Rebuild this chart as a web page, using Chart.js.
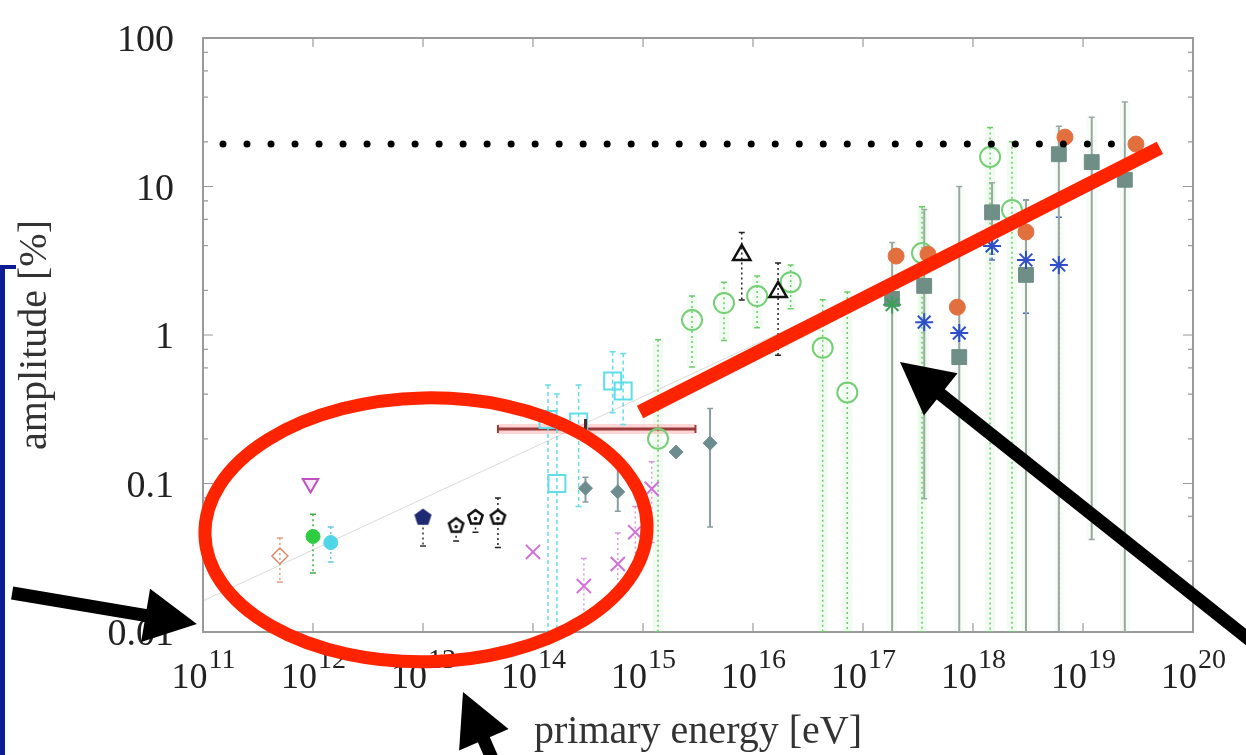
<!DOCTYPE html>
<html>
<head>
<meta charset="utf-8">
<script src="https://cdn.jsdelivr.net/npm/chart.js@4.4.0/dist/chart.umd.min.js"></script>
<style>
  html, body { margin: 0; padding: 0; background: #fff; }
  #wrap { position: relative; width: 1246px; height: 755px; overflow: hidden; }
  #bracket { position: absolute; left: 0; top: 265px; width: 11px; height: 500px;
             border-left: 5px solid #0c1d94; border-top: 4px solid #0c1d94; }
</style>
</head>
<body>
<div id="wrap">
  <canvas id="amplitudeChart" width="1246" height="755"></canvas>
  <div id="bracket"></div>
</div>
<script>
// axis ticks
const yTickValues = [0.01, 0.1, 1, 10, 100];
const yTickLabels = ['0.01', '0.1', '1', '10', '100'];
const xTickExponents = [11, 12, 13, 14, 15, 16, 17, 18, 19, 20];

// energy [eV], amplitude [%], lower / upper error (null = none drawn)
const diamondE = [5e11];
const diamondA = [0.0325];
const diamondLo = [0.0217];
const diamondHi = [0.043];

const triDownE = [9.5e11];
const triDownA = [0.1];

const greenDotE = [1e12];
const greenDotA = [0.044];
const greenDotLo = [0.025];
const greenDotHi = [0.062];

const cyanDotE = [1.45e12];
const cyanDotA = [0.040];
const cyanDotLo = [0.0296];
const cyanDotHi = [0.051];

const navyPentE = [1e13];
const navyPentA = [0.059];
const navyPentLo = [0.038];
const navyPentHi = [0.059];

const openPentE = [2e13, 3e13, 4.8e13];
const openPentA = [0.052, 0.059, 0.059];
const openPentLo = [0.041, 0.047, 0.037];
const openPentHi = [0.052, 0.059, 0.08];

const crossE = [1e14, 2.9e14, 5.9e14, 8.5e14, 1.2e15];
const crossA = [0.0346, 0.0204, 0.0287, 0.047, 0.092];
const crossLo = [null, 0.012, 0.017, 0.03, 0.04];
const crossHi = [null, 0.0313, 0.0465, 0.07, 0.14];

const cyanSqE = [1.37e14, 1.65e14, 2.6e14, 5.3e14, 6.6e14];
const cyanSqA = [0.27, 0.1, 0.26, 0.49, 0.42];
const cyanSqLo = [0.01, 0.01, 0.07, 0.3, 0.25];
const cyanSqHi = [0.46, 0.4, 0.46, 0.77, 0.75];

const slateE = [3e14, 5.9e14, 2e15, 4.07e15];
const slateA = [0.093, 0.088, 0.163, 0.187];
const slateLo = [0.075, 0.065, null, 0.051];
const slateHi = [0.11, 0.15, null, 0.32];

const hBarE = [3e14];
const hBarA = [0.233];
const hBarELo = [4.8e13];
const hBarEHi = [3e15];

const circleE = [1.37e15, 2.79e15, 5.45e15, 1.09e16, 2.2e16, 4.3e16, 7.2e16, 3.44e17, 1.43e18, 2.26e18];
const circleA = [0.2, 1.26, 1.64, 1.83, 2.27, 0.82, 0.41, 3.56, 15.8, 6.95];
const circleLo = [0.01, 0.61, 0.92, 1.12, 1.5, 0.01, 0.01, 0.01, 0.01, 0.01];
const circleHi = [0.93, 1.83, 2.27, 2.5, 2.96, 1.73, 1.95, 7.3, 25, 20];

const triUpE = [7.9e15, 1.69e16];
const triUpA = [3.46, 1.95];
const triUpLo = [1.72, 0.73];
const triUpHi = [4.9, 3.05];

const orangeE = [2e17, 3.9e17, 7.2e17, 3.03e18, 6.86e18, 3.03e19];
const orangeA = [3.4, 3.5, 1.54, 4.94, 21.5, 19.3];

const squareE = [1.84e17, 3.6e17, 7.5e17, 1.49e18, 3.03e18, 6.03e18, 1.2e19, 2.4e19];
const squareA = [1.75, 2.14, 0.71, 6.7, 2.54, 16.5, 14.6, 11.1];
const squareLo = [0.01, 0.079, 0.01, 3.5, 0.01, 0.01, 0.042, 0.01];
const squareHi = [4.2, 7.0, 10, 10.6, 8.1, 25.5, 29.3, 37];

const greenStarE = [1.84e17];
const greenStarA = [1.6];

const blueStarE = [3.6e17, 7.5e17, 1.49e18, 3.03e18, 6.03e18];
const blueStarA = [1.22, 1.03, 3.98, 3.2, 2.96];
const blueStarLo = [null, null, 3.2, 1.4, 0.01];
const blueStarHi = [null, null, 4.9, 8.1, 6.2];

// lines
const limitE = [1.52e11, 1.84e19];
const limitA = [19.3, 19.3];
const fitE = [1e11, 3e16];
const fitA = [0.0162, 1.24];
const redLineE = [9.4e14, 5e19];
const redLineA = [0.303, 18.2];

// hand-drawn annotations, in data coordinates
const ellipseBox = { eMin: 1.04e11, eMax: 1.09e15, aMin: 0.0063, aMax: 0.377 };
const arrowFrom = [[1.84e9, 0.0183], [4.71e13, 0.00118], [5e20, 0.00689]];
const arrowTo = [[8.8e10, 0.01132], [2.31e13, 0.00394], [2.17e17, 0.658]];

const pts = (e, a) => e.map((v, i) => ({ x: v, y: a[i] }));

function pentagon(size, fill, stroke, dot) {
  const c = document.createElement('canvas');
  c.width = c.height = size + 6;
  const g = c.getContext('2d');
  const r = size / 2, cx = c.width / 2, cy = c.height / 2;
  g.beginPath();
  for (let k = 0; k < 5; k++) {
    const ang = -Math.PI / 2 + k * 2 * Math.PI / 5;
    g.lineTo(cx + r * Math.cos(ang), cy + r * Math.sin(ang));
  }
  g.closePath();
  if (fill) { g.fillStyle = fill; g.fill(); }
  g.strokeStyle = stroke; g.lineWidth = 2.5; g.stroke();
  if (dot) { g.beginPath(); g.arc(cx, cy + 1, 1.8, 0, 2 * Math.PI); g.fillStyle = stroke; g.fill(); }
  return c;
}

const serif = '"Liberation Serif", "Times New Roman", serif';

const errorBars = {
  id: 'errorBars',
  beforeDatasetsDraw(chart) {
    const { ctx, chartArea: ca, scales: { x, y } } = chart;
    ctx.save();
    ctx.beginPath();
    ctx.rect(ca.left, ca.top, ca.right - ca.left, ca.bottom - ca.top);
    ctx.clip();
    chart.data.datasets.forEach(ds => {
      if (ds.errLo) {
        ds.data.forEach((p, i) => {
          const lo = ds.errLo[i], hi = ds.errHi[i];
          if (lo == null || hi == null) return;
          const px = x.getPixelForValue(p.x);
          const y1 = y.getPixelForValue(hi), y2 = y.getPixelForValue(lo);
          if (ds.errGlow) {
            ctx.setLineDash([]);
            ctx.strokeStyle = ds.errGlow;
            ctx.lineWidth = 10;
            ctx.beginPath(); ctx.moveTo(px, y1); ctx.lineTo(px, y2); ctx.stroke();
          }
          ctx.strokeStyle = ds.errColor;
          ctx.lineWidth = ds.errWidth || 1.5;
          ctx.setLineDash(ds.errDash || []);
          ctx.beginPath(); ctx.moveTo(px, y1); ctx.lineTo(px, y2); ctx.stroke();
          ctx.setLineDash([]);
          ctx.lineWidth = 1.5;
          ctx.beginPath();
          ctx.moveTo(px - 3, y1); ctx.lineTo(px + 3, y1);
          ctx.moveTo(px - 3, y2); ctx.lineTo(px + 3, y2);
          ctx.stroke();
        });
      }
      if (ds.xErrLo) {
        ds.data.forEach((p, i) => {
          const x1 = x.getPixelForValue(ds.xErrLo[i]), x2 = x.getPixelForValue(ds.xErrHi[i]);
          const py = y.getPixelForValue(p.y);
          ctx.setLineDash([]);
          ctx.strokeStyle = 'rgba(255,90,90,0.25)';
          ctx.lineWidth = 10;
          ctx.beginPath(); ctx.moveTo(x1, py); ctx.lineTo(x2, py); ctx.stroke();
          ctx.strokeStyle = ds.errColor;
          ctx.lineWidth = 3;
          ctx.beginPath(); ctx.moveTo(x1, py); ctx.lineTo(x2, py); ctx.stroke();
          ctx.lineWidth = 2;
          ctx.beginPath();
          ctx.moveTo(x1, py - 4); ctx.lineTo(x1, py + 4);
          ctx.moveTo(x2, py - 4); ctx.lineTo(x2, py + 4);
          ctx.stroke();
        });
      }
    });
    ctx.restore();
  }
};

const frameAxes = {
  id: 'frameAxes',
  beforeDatasetsDraw(chart) {
    const { ctx, chartArea: ca, scales: { x, y } } = chart;
    ctx.save();
    ctx.strokeStyle = '#9a9a9a';
    ctx.lineWidth = 2;
    ctx.strokeRect(ca.left, ca.top, ca.right - ca.left, ca.bottom - ca.top);
    ctx.lineWidth = 1.2;
    ctx.beginPath();
    y.ticks.forEach(t => {
      const l = Math.log10(t.value);
      const major = Math.abs(l - Math.round(l)) < 1e-6;
      const len = major ? 10 : 5;
      const py = y.getPixelForValue(t.value);
      ctx.moveTo(ca.left, py); ctx.lineTo(ca.left + len, py);
      ctx.moveTo(ca.right, py); ctx.lineTo(ca.right - len, py);
    });
    xTickExponents.forEach(n => {
      const px = x.getPixelForValue(Math.pow(10, n));
      ctx.moveTo(px, ca.bottom); ctx.lineTo(px, ca.bottom - 9);
      ctx.moveTo(px, ca.top); ctx.lineTo(px, ca.top + 9);
    });
    ctx.stroke();

    ctx.fillStyle = '#222';
    ctx.font = '38px ' + serif;
    ctx.textAlign = 'right';
    ctx.textBaseline = 'alphabetic';
    yTickValues.forEach((v, i) => {
      ctx.fillText(yTickLabels[i], ca.left - 29, y.getPixelForValue(v) + 13);
    });

    xTickExponents.forEach(n => {
      const px = x.getPixelForValue(Math.pow(10, n));
      ctx.font = '36px ' + serif;
      const wBase = ctx.measureText('10').width;
      ctx.font = '28px ' + serif;
      const wExp = ctx.measureText(String(n)).width;
      const x0 = px - (wBase + wExp) / 2;
      ctx.textAlign = 'left';
      ctx.font = '36px ' + serif;
      ctx.fillText('10', x0, ca.bottom + 56);
      ctx.font = '28px ' + serif;
      ctx.fillText(String(n), x0 + wBase + 1, ca.bottom + 36);
    });

    ctx.fillStyle = '#333';
    ctx.font = '40px ' + serif;
    ctx.textAlign = 'center';
    ctx.fillText('primary energy [eV]', (ca.left + ca.right) / 2, ca.bottom + 111);
    ctx.save();
    ctx.translate(46, (ca.top + ca.bottom) / 2);
    ctx.rotate(-Math.PI / 2);
    ctx.fillText('amplitude [%]', 0, 0);
    ctx.restore();
    ctx.restore();
  }
};

const annotations = {
  id: 'annotations',
  afterDraw(chart) {
    const { ctx, scales: { x, y } } = chart;
    ctx.save();
    const xl = x.getPixelForValue(ellipseBox.eMin), xr = x.getPixelForValue(ellipseBox.eMax);
    const yt = y.getPixelForValue(ellipseBox.aMax), yb = y.getPixelForValue(ellipseBox.aMin);
    ctx.strokeStyle = '#ff2400';
    ctx.lineWidth = 13;
    ctx.beginPath();
    ctx.ellipse((xl + xr) / 2, (yt + yb) / 2, (xr - xl) / 2, (yb - yt) / 2, -0.02, 0, 2 * Math.PI);
    ctx.stroke();

    ctx.fillStyle = '#000';
    ctx.strokeStyle = '#000';
    arrowFrom.forEach((f, i) => {
      const t = arrowTo[i];
      const fx = x.getPixelForValue(f[0]), fy = y.getPixelForValue(f[1]);
      const tx = x.getPixelForValue(t[0]), ty = y.getPixelForValue(t[1]);
      const len = Math.hypot(tx - fx, ty - fy);
      const ux = (tx - fx) / len, uy = (ty - fy) / len;
      const head = 52, half = 27;
      const bx = tx - ux * head, by = ty - uy * head;
      ctx.lineWidth = 13;
      ctx.lineCap = 'butt';
      ctx.beginPath(); ctx.moveTo(fx, fy); ctx.lineTo(bx + ux * 10, by + uy * 10); ctx.stroke();
      ctx.beginPath();
      ctx.moveTo(tx, ty);
      ctx.lineTo(bx - uy * half, by + ux * half);
      ctx.lineTo(bx + uy * half, by - ux * half);
      ctx.closePath();
      ctx.fill();
    });
    ctx.restore();
  }
};

const ctx = document.getElementById('amplitudeChart').getContext('2d');
const amplitudeChart = new Chart(ctx, {
  type: 'scatter',
  data: {
    datasets: [
      {
        label: 'red line', data: pts(redLineE, redLineA), showLine: true, order: 0,
        borderColor: '#ff2400', borderWidth: 14, pointRadius: 0, borderCapStyle: 'butt'
      },
      {
        label: 'limit', data: pts(limitE, limitA), showLine: true, order: 1,
        borderColor: '#000', borderWidth: 7, borderDash: [0.01, 24], borderCapStyle: 'round', pointRadius: 0
      },
      {
        label: 'orange', data: pts(orangeE, orangeA), order: 2,
        pointStyle: 'circle', pointRadius: 8, backgroundColor: '#e2703f', borderColor: '#e2703f'
      },
      {
        label: 'blue stars', data: pts(blueStarE, blueStarA), order: 3,
        pointStyle: 'star', pointRadius: 9, borderColor: '#2f4fc8', borderWidth: 2,
        errLo: blueStarLo, errHi: blueStarHi, errColor: '#3a58c8', errDash: [2, 3]
      },
      {
        label: 'green star', data: pts(greenStarE, greenStarA), order: 4,
        pointStyle: 'star', pointRadius: 9, borderColor: '#3da05a', borderWidth: 2
      },
      {
        label: 'squares', data: pts(squareE, squareA), order: 5,
        pointStyle: 'rect', pointRadius: 10.5, backgroundColor: '#6f8f86', borderColor: '#6f8f86',
        errLo: squareLo, errHi: squareHi, errColor: '#9aa6a3', errWidth: 2, errGlow: 'rgba(140,220,140,0.08)'
      },
      {
        label: 'triangles', data: pts(triUpE, triUpA), order: 6,
        pointStyle: 'triangle', pointRadius: 10, borderColor: '#111', borderWidth: 2.5, backgroundColor: 'rgba(0,0,0,0)',
        errLo: triUpLo, errHi: triUpHi, errColor: '#222', errDash: [2, 3]
      },
      {
        label: 'circles', data: pts(circleE, circleA), order: 7,
        pointStyle: 'circle', pointRadius: 10, borderColor: '#74d074', borderWidth: 2, backgroundColor: 'rgba(0,0,0,0)',
        errLo: circleLo, errHi: circleHi, errColor: '#6ccc6c', errDash: [2, 3], errGlow: 'rgba(140,225,140,0.12)'
      },
      {
        label: 'h bar', data: pts(hBarE, hBarA), order: 8,
        pointStyle: 'line', rotation: 90, pointRadius: 10, borderColor: '#5a2424', borderWidth: 3,
        xErrLo: hBarELo, xErrHi: hBarEHi, errColor: '#9b3a3a'
      },
      {
        label: 'diamonds', data: pts(slateE, slateA), order: 9,
        pointStyle: 'rectRot', pointRadius: 7, backgroundColor: '#6d8c90', borderColor: '#6d8c90',
        errLo: slateLo, errHi: slateHi, errColor: '#8a9ea2', errWidth: 2
      },
      {
        label: 'cyan squares', data: pts(cyanSqE, cyanSqA), order: 10,
        pointStyle: 'rect', pointRadius: 12, borderColor: '#5fdde8', borderWidth: 2, backgroundColor: 'rgba(0,0,0,0)',
        errLo: cyanSqLo, errHi: cyanSqHi, errColor: '#66dde8', errDash: [4, 3]
      },
      {
        label: 'crosses', data: pts(crossE, crossA), order: 11,
        pointStyle: 'crossRot', pointRadius: 10, borderColor: '#d070d8', borderWidth: 2,
        errLo: crossLo, errHi: crossHi, errColor: '#d89ad8', errDash: [2, 3]
      },
      {
        label: 'open pentagons', data: pts(openPentE, openPentA), order: 12,
        pointStyle: pentagon(15, '#fff', '#111', true), pointRadius: 8,
        errLo: openPentLo, errHi: openPentHi, errColor: '#222', errDash: [2, 3]
      },
      {
        label: 'navy pentagon', data: pts(navyPentE, navyPentA), order: 13,
        pointStyle: pentagon(15, '#1f2a72', '#1f2a72', false), pointRadius: 8,
        errLo: navyPentLo, errHi: navyPentHi, errColor: '#333', errDash: [2, 3]
      },
      {
        label: 'cyan dot', data: pts(cyanDotE, cyanDotA), order: 14,
        pointStyle: 'circle', pointRadius: 7, backgroundColor: '#4fd6e8', borderColor: '#4fd6e8',
        errLo: cyanDotLo, errHi: cyanDotHi, errColor: '#66c8e0', errDash: [2, 3]
      },
      {
        label: 'green dot', data: pts(greenDotE, greenDotA), order: 15,
        pointStyle: 'circle', pointRadius: 7, backgroundColor: '#2ecc40', borderColor: '#2ecc40',
        errLo: greenDotLo, errHi: greenDotHi, errColor: '#3cb043', errDash: [2, 3]
      },
      {
        label: 'triangle down', data: pts(triDownE, triDownA), order: 16,
        pointStyle: 'triangle', rotation: 180, pointRadius: 9, borderColor: '#c050c0', borderWidth: 2,
        backgroundColor: 'rgba(200,80,200,0.12)'
      },
      {
        label: 'diamond', data: pts(diamondE, diamondA), order: 17,
        pointStyle: 'rectRot', pointRadius: 8, borderColor: '#d98a6a', borderWidth: 1.5, backgroundColor: 'rgba(0,0,0,0)',
        errLo: diamondLo, errHi: diamondHi, errColor: '#e0a080', errDash: [2, 3]
      },
      {
        label: 'fit', data: pts(fitE, fitA), showLine: true, order: 18,
        borderColor: 'rgba(150,150,150,0.35)', borderWidth: 1, pointRadius: 0
      }
    ]
  },
  options: {
    responsive: false,
    animation: false,
    devicePixelRatio: 1,
    layout: { padding: { left: 203, right: 53, top: 38, bottom: 123 } },
    scales: {
      x: { type: 'logarithmic', min: 1e11, max: 1e20, display: false },
      y: { type: 'logarithmic', min: 0.01, max: 100, display: false }
    },
    plugins: {
      legend: { display: false },
      tooltip: { enabled: false }
    }
  },
  plugins: [frameAxes, errorBars, annotations]
});
</script>
</body>
</html>
